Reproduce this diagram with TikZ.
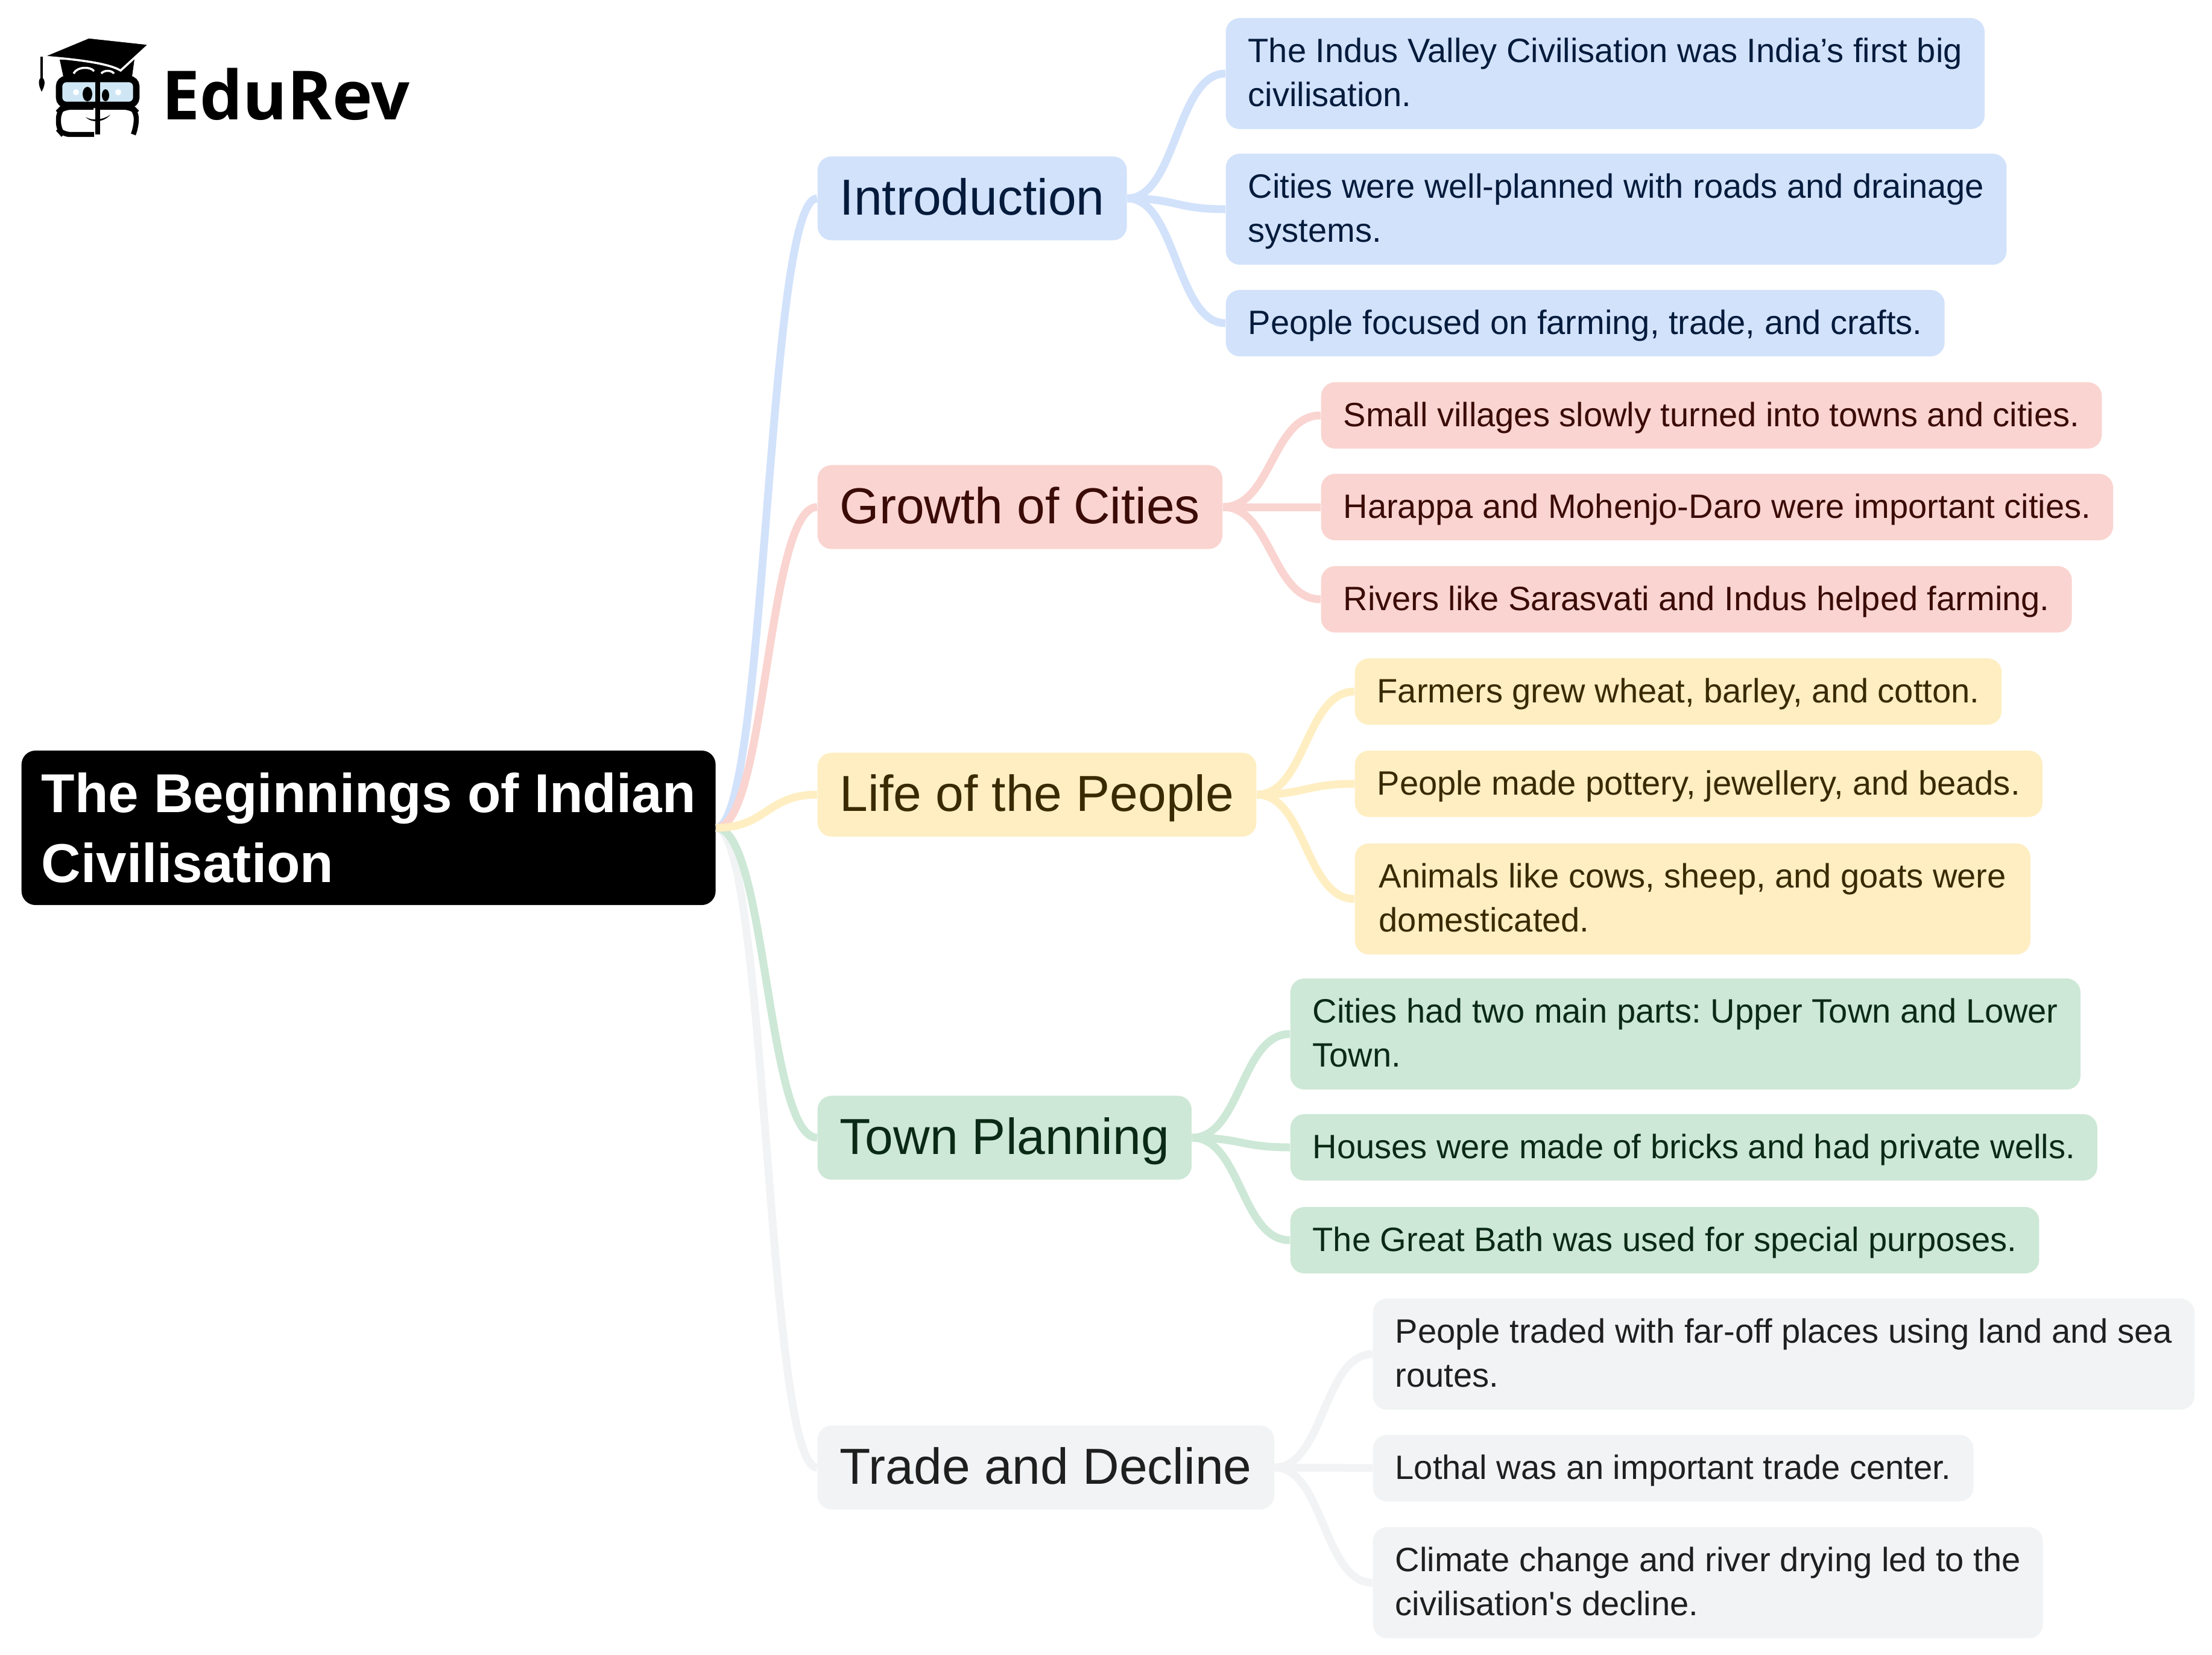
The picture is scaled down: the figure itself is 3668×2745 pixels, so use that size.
\documentclass[tikz,border=0pt]{standalone}
\usepackage{fontspec}
\setmainfont{Liberation Sans}
\newfontfamily\logofont{Open Sans}
\newfontfamily\quotefont{Liberation Sans}
\usetikzlibrary{calc}

\definecolor{blueBg}{HTML}{D2E2FB}
\definecolor{blueTx}{HTML}{041B3C}
\definecolor{redBg}{HTML}{FAD4D0}
\definecolor{redTx}{HTML}{3A0B07}
\definecolor{yelBg}{HTML}{FEEEC2}
\definecolor{yelTx}{HTML}{392A02}
\definecolor{greenBg}{HTML}{CDE8D6}
\definecolor{greenTx}{HTML}{0B2A16}
\definecolor{grayBg}{HTML}{F1F3F4}
\definecolor{grayTx}{HTML}{1F1F1F}
\definecolor{lens}{HTML}{CFE7F5}

\newcommand{\boxstrut}{\rule[-0.346em]{0pt}{1.346em}}

\tikzset{
    box/.style={anchor=west, rounded corners=0.23cm, inner ysep=0pt, align=left},
    strutted/.style={execute at end node=\boxstrut},
    rootbox/.style={box, fill=black, text=white, inner xsep=0.33cm, minimum height=2.56cm,
        font=\fontsize{25.83}{33.2}\selectfont\bfseries},
    branch/.style={box, strutted, inner xsep=0.37cm, minimum height=1.39cm,
        font=\fontsize{23.88}{28}\selectfont},
    leaf/.style={box, strutted, inner xsep=0.37cm, minimum height=1.1cm,
        font=\fontsize{15.93}{20.7}\selectfont\frenchspacing},
    tallleaf/.style={leaf, minimum height=1.84cm},
    conn/.style={line width=3.7pt},
    cblue/.style={fill=blueBg, text=blueTx},
    cred/.style={fill=redBg, text=redTx},
    cyel/.style={fill=yelBg, text=yelTx},
    cgreen/.style={fill=greenBg, text=greenTx},
    cgray/.style={fill=grayBg, text=grayTx}
}

\newcommand{\link}[3]{\draw[conn, #1] let \p1=(#2.east), \p2=(#3.west) in
    (\p1) .. controls ({0.5*\x1+0.5*\x2},\y1) and ({0.5*\x1+0.5*\x2},\y2) .. (\p2);}

\begin{document}
\begin{tikzpicture}[x=0.01cm, y=-0.01cm]
    \useasboundingbox (0,0) rectangle (3668,2745);

    % Root
    \node[rootbox] (root) at (35,1373) {The Beginnings of Indian\\Civilisation};

    % Introduction
    \node[branch, cblue] (intro) at (1355,329) {Introduction};
    \node[tallleaf, cblue] (intro1) at (2032,122) {\boxstrut The Indus Valley Civilisation was India’s first big\\civilisation.};
    \node[tallleaf, cblue] (intro2) at (2032,347) {\boxstrut Cities were well-planned with roads and drainage\\systems.};
    \node[leaf, cblue] (intro3) at (2032,536) {People focused on farming, trade, and crafts.};

    % Growth of Cities
    \node[branch, cred] (growth) at (1355,841) {Growth of Cities};
    \node[leaf, cred] (growth1) at (2190,689) {Small villages slowly turned into towns and cities.};
    \node[leaf, cred] (growth2) at (2190,841) {Harappa and Mohenjo-Daro were important cities.};
    \node[leaf, cred] (growth3) at (2190,994) {Rivers like Sarasvati and Indus helped farming.};

    % Life of the People
    \node[branch, cyel] (life) at (1355,1318) {Life of the People};
    \node[leaf, cyel] (life1) at (2246,1147) {Farmers grew wheat, barley, and cotton.};
    \node[leaf, cyel] (life2) at (2246,1300) {People made pottery, jewellery, and beads.};
    \node[tallleaf, cyel, inner xsep=0.40cm] (life3) at (2246,1491) {\boxstrut Animals like cows, sheep, and goats were\\domesticated.};

    % Town Planning
    \node[branch, cgreen] (town) at (1355,1887) {Town Planning};
    \node[tallleaf, cgreen] (town1) at (2139,1715) {\boxstrut Cities had two main parts: Upper Town and Lower\\Town.};
    \node[leaf, cgreen] (town2) at (2139,1903) {Houses were made of bricks and had private wells.};
    \node[leaf, cgreen] (town3) at (2139,2057) {The Great Bath was used for special purposes.};

    % Trade and Decline
    \node[branch, cgray] (trade) at (1355,2434) {Trade and Decline};
    \node[tallleaf, cgray] (trade1) at (2276,2246) {\boxstrut People traded with far-off places using land and sea\\routes.};
    \node[leaf, cgray] (trade2) at (2276,2435) {Lothal was an important trade center.};
    \node[tallleaf, cgray] (trade3) at (2276,2625) {\boxstrut Climate change and river drying led to the\\civilisation{\quotefont'}s decline.};

    % Connectors
    \link{blueBg}{root}{intro}
    \link{redBg}{root}{growth}
    \link{grayBg}{root}{trade}
    \link{greenBg}{root}{town}
    \link{yelBg}{root}{life}

    \link{blueBg}{intro}{intro1}
    \link{blueBg}{intro}{intro2}
    \link{blueBg}{intro}{intro3}
    \link{redBg}{growth}{growth1}
    \link{redBg}{growth}{growth2}
    \link{redBg}{growth}{growth3}
    \link{yelBg}{life}{life1}
    \link{yelBg}{life}{life2}
    \link{yelBg}{life}{life3}
    \link{greenBg}{town}{town1}
    \link{greenBg}{town}{town2}
    \link{greenBg}{town}{town3}
    \link{grayBg}{trade}{trade1}
    \link{grayBg}{trade}{trade2}
    \link{grayBg}{trade}{trade3}

    % Logo
    \node[anchor=base west, inner sep=0pt, font=\fontsize{32}{32}\selectfont\logofont\bfseries] (logo) at (268,199) {EduRev};

    \fill (99,99) -- (105,127) -- (219,127) -- (223,98) -- cycle;
    \draw[white, line width=1pt] (122,122) .. controls (128,110) and (150,110) .. (156,118);
    \draw[white, line width=1pt] (168,122) .. controls (172,116) and (185,116) .. (189,122);
    \draw[white, fill=black, line width=1pt] (70,94) -- (147,62) -- (248,73) -- (200,117) .. controls (185,108) and (150,100) .. (70,94) -- cycle;
    \draw[line width=1pt] (69,94) -- (69,130);
    \fill (69,152) .. controls (64,142) and (62,132) .. (69,128) .. controls (76,132) and (75,142) .. (69,152) -- cycle;
    \draw[line width=3pt, fill=lens, rounded corners=0.12cm] (98,131) rectangle (226,174);
    \draw[line width=2.4pt, rounded corners=0.12cm] (156,223) -- (104,223) -- (97,215) -- (97,185) -- (104,178) -- (155,178);
    \draw[line width=2.4pt, rounded corners=0.12cm] (165,178) -- (219,178) -- (226,185) -- (226,210) -- (221,223);
    \draw[line width=2.4pt] (162,128) -- (162,223);
    \fill (145,156) ellipse [x radius=8, y radius=12];
    \fill (175,158) ellipse [x radius=6, y radius=10];
    \fill[white] (126,153) circle (5);
    \fill[white] (196,153) circle (5);
    \fill (142,194) .. controls (150,204) and (172,204) .. (183,190) .. controls (172,199) and (152,201) .. (142,194) -- cycle;
\end{tikzpicture}
\end{document}
